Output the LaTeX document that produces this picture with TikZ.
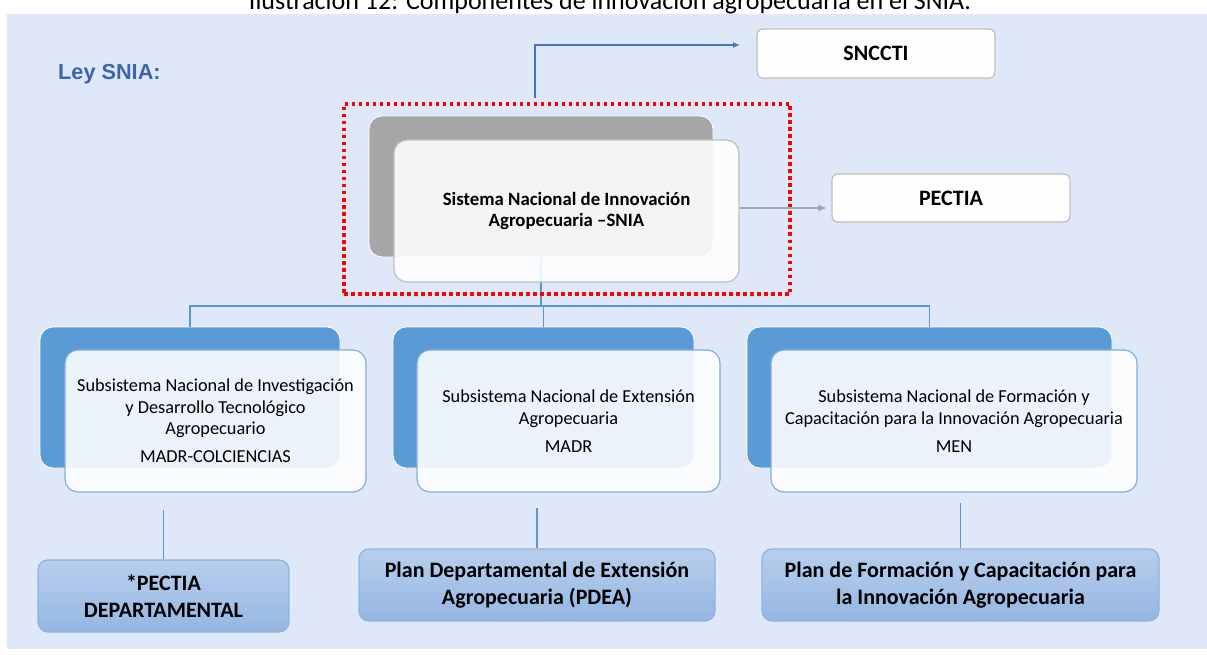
\documentclass[tikz,border=0pt]{standalone}
\usepackage{fontspec}
\usetikzlibrary{arrows.meta}
\setmainfont{Carlito}
\newfontfamily\arialfont{Liberation Sans}
\definecolor{bgblue}{RGB}{222,232,248}
\definecolor{darkblue}{RGB}{91,155,213}
\definecolor{frontborder}{RGB}{127,174,224}
\definecolor{graybox}{RGB}{166,166,166}
\definecolor{grayborder}{RGB}{190,190,190}
\definecolor{lineblue}{RGB}{91,150,210}
\definecolor{arrowblue}{RGB}{68,114,196}
\definecolor{titleblue}{RGB}{63,100,170}
\definecolor{plantop}{RGB}{184,207,236}
\definecolor{planbot}{RGB}{148,182,226}
\definecolor{planborder}{RGB}{141,179,226}
\definecolor{dotred}{RGB}{255,0,0}
\begin{document}
\begin{tikzpicture}[x=1pt,y=-1pt,
  backbox/.style={rectangle,rounded corners=13pt,fill=darkblue,draw=white,line width=0.8pt,inner sep=0pt},
  frontbox/.style={rectangle,rounded corners=13pt,fill=white,fill opacity=0.88,text opacity=1,draw=frontborder,line width=1.2pt,inner sep=0pt,align=center,font=\fontsize{18.3}{21.5}\selectfont},
  topbox/.style={rectangle,rounded corners=6pt,fill=white!97!bgblue,draw=grayborder,line width=1.2pt,inner sep=0pt,font=\bfseries\fontsize{22}{26}\selectfont},
  planbox/.style={rectangle,rounded corners=10pt,top color=plantop,bottom color=planbot,draw=planborder,line width=1.2pt,inner sep=0pt,align=center,font=\bfseries\fontsize{22}{26.5}\selectfont},
  treeline/.style={draw=lineblue,line width=1.1pt},
]
\useasboundingbox (0,0) rectangle (1207,655);
\fill[white] (0,0) rectangle (1207,655);
\fill[bgblue] (7,14) rectangle (1207,649);
\node[anchor=base,font=\fontsize{26}{30}\selectfont] (cap) at (610,9.5) {Ilustración 12: Componentes de innovación agropecuaria en el SNIA.};
\node[anchor=base west,font=\arialfont\bfseries\fontsize{21.7}{24}\selectfont,text=titleblue,inner sep=0pt] (ley) at (58,80) {Ley SNIA:};

% SNCCTI
\node[topbox,minimum width=238pt,minimum height=49pt] (sncc) at (876,53.5) {SNCCTI};
\coordinate (s1) at (535,98);
\coordinate (s2) at (740,45);
\draw[arrowblue,line width=1.3pt,-{Latex[length=7pt,width=6pt]}] (s1) |- (s2);

% SNIA
\node[rectangle,rounded corners=13pt,fill=graybox,draw=white,line width=0.8pt,minimum width=344pt,minimum height=141pt,inner sep=0pt] (gray) at (541,186.5) {};
\coordinate (bus) at (541,306);
\draw[treeline] (gray.south) -- (bus);
\node[frontbox,draw=grayborder,minimum width=345pt,minimum height=142pt,font=\bfseries\fontsize{18.8}{21.5}\selectfont] (snia) at (566.5,211) {Sistema Nacional de Innovación\\Agropecuaria –SNIA};
\node[draw=dotred,line width=3.5pt,dash pattern=on 3.5pt off 3.5pt,minimum width=446pt,minimum height=190pt,inner sep=0pt] (redbox) at (567,199) {};

% PECTIA
\node[topbox,minimum width=238pt,minimum height=48pt] (pectia) at (951,198) {PECTIA};
\draw[graybox,line width=1.3pt,-{Latex[length=8pt,width=7pt]},shorten >=5pt] (snia.east |- 0,208) -- (pectia.west |- 0,208);

% subsystems back
\node[backbox,minimum width=300pt,minimum height=141pt] (lb) at (190,397.5) {};
\node[backbox,minimum width=301pt,minimum height=141pt] (mb) at (543.5,397.5) {};
\node[backbox,minimum width=365pt,minimum height=141pt] (rb) at (929.5,397.5) {};
\draw[treeline] (lb.north) -- (lb.north |- bus) -- (rb.north |- bus) -- (rb.north);
\draw[treeline] (mb.north) -- (mb.north |- bus);

% subsystems front
\node[frontbox,minimum width=301pt,minimum height=142pt] (lf) at (215.5,421) {Subsistema Nacional de Investigación\\y Desarrollo Tecnológico\\Agropecuario\\[6.5pt]MADR-COLCIENCIAS};
\node[frontbox,minimum width=303pt,minimum height=142pt] (mf) at (568.5,421) {Subsistema Nacional de Extensión\\Agropecuaria\\[6.5pt]MADR};
\node[frontbox,minimum width=366pt,minimum height=142pt] (rf) at (954,421) {Subsistema Nacional de Formación y\\Capacitación para la Innovación Agropecuaria\\[6.5pt]MEN};

% plans
\node[planbox,minimum width=251pt,minimum height=72pt] (pl) at (163.5,596) {*PECTIA\\DEPARTAMENTAL};
\node[planbox,minimum width=356pt,minimum height=72pt] (pm) at (537,585) {Plan Departamental de Extensión\\Agropecuaria (PDEA)};
\node[planbox,minimum width=397pt,minimum height=72pt] (pr) at (960.5,585) {Plan de Formación y Capacitación para\\la Innovación Agropecuaria};
\coordinate (l1) at (163.5,510);
\coordinate (m1) at (537,508);
\coordinate (r1) at (960.5,503);
\draw[treeline] (l1) -- (pl.north);
\draw[treeline] (m1) -- (pm.north);
\draw[treeline] (r1) -- (pr.north);
\end{tikzpicture}
\end{document}
